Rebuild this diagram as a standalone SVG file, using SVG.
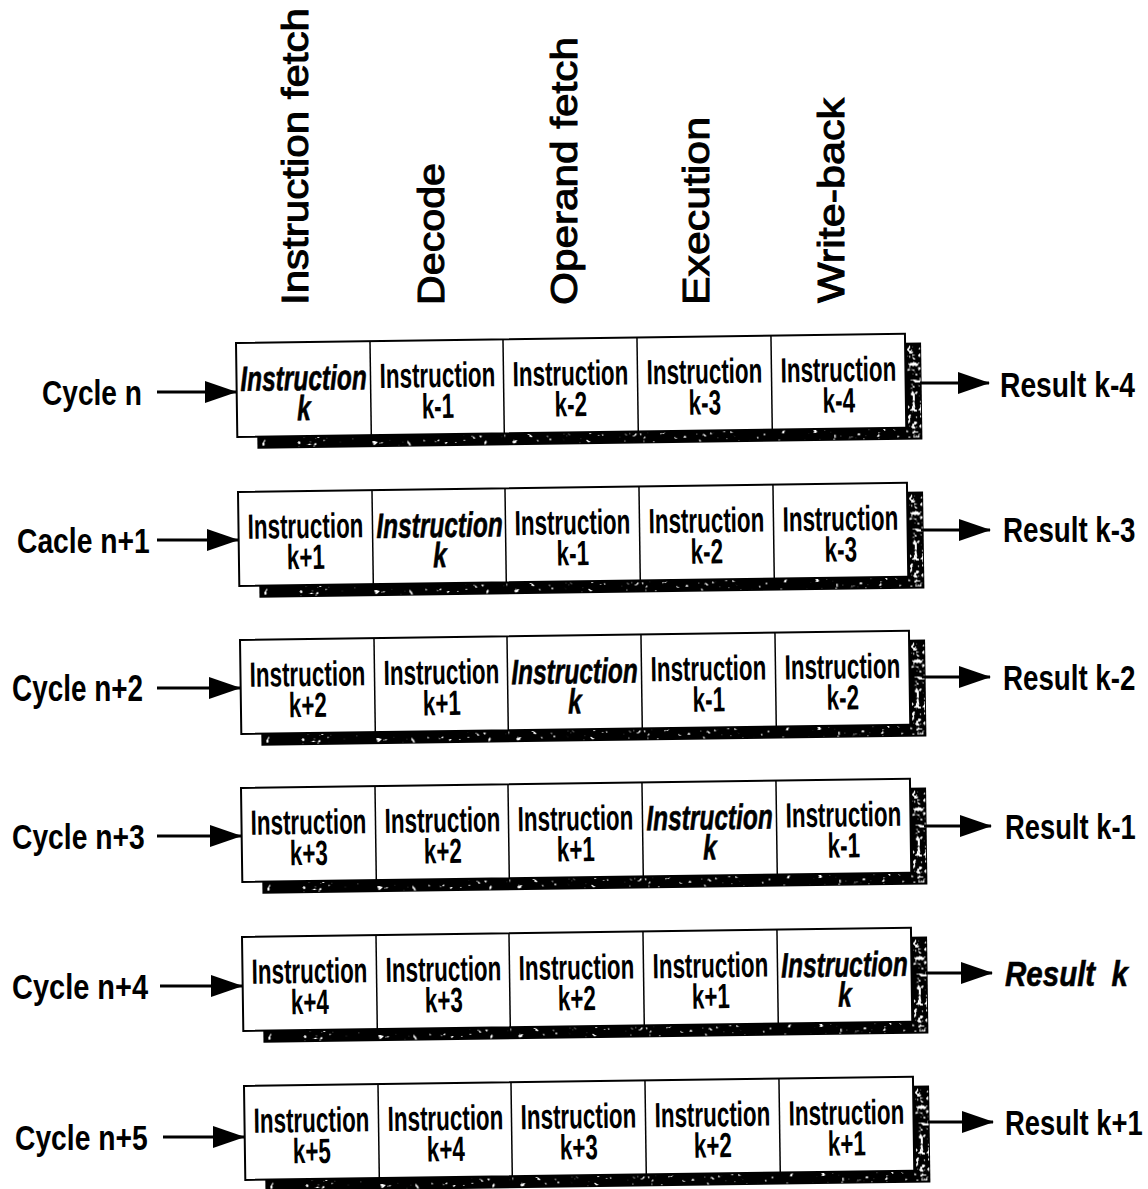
<svg xmlns="http://www.w3.org/2000/svg" width="1148" height="1189" viewBox="0 0 1148 1189">
<style>
  .hdr { font-family: "Liberation Sans", Arial, sans-serif; font-weight: normal; font-size: 36px; fill: #000; stroke: #000; stroke-width: 1px; }
  .lbl { font-family: "Liberation Sans", Arial, sans-serif; font-weight: bold; font-size: 36px; fill: #000; }
  .cell { font-family: "Liberation Sans", Arial, sans-serif; font-weight: bold; font-size: 35px; fill: #000; text-anchor: middle; }
  .cur { font-style: italic; font-weight: 900; stroke: #000; stroke-width: 0.6px; }
  .box { fill: #fff; stroke: #000; stroke-width: 2px; }
  .div { stroke: #000; stroke-width: 1.5px; }
  .shadow { fill: #000; }
  .conn { stroke: #000; stroke-width: 3px; fill: none; }
</style>
<defs>
  <marker id="ah" markerUnits="userSpaceOnUse" markerWidth="32" markerHeight="22" refX="31" refY="11" orient="auto">
    <path d="M0,0 L32,11 L0,22 Z" fill="#000"/>
  </marker>
  <filter id="speckB" filterUnits="userSpaceOnUse" x="0" y="0" width="1148" height="1189">
    <feTurbulence type="fractalNoise" baseFrequency="0.2" numOctaves="2" seed="7" result="n"/>
    <feColorMatrix in="n" type="matrix" values="0 0 0 0 1  0 0 0 0 1  0 0 0 0 1  18 0 0 0 -12.2" result="w"/>
    <feComposite in="w" in2="SourceGraphic" operator="in"/>
  </filter>
  <filter id="speckR" filterUnits="userSpaceOnUse" x="0" y="0" width="1148" height="1189">
    <feTurbulence type="fractalNoise" baseFrequency="0.24" numOctaves="2" seed="3" result="n"/>
    <feColorMatrix in="n" type="matrix" values="0 0 0 0 1  0 0 0 0 1  0 0 0 0 1  14 0 0 0 -7.8" result="w"/>
    <feComposite in="w" in2="SourceGraphic" operator="in"/>
  </filter>
  <g id="tray">
    <rect class="shadow" x="20" y="9" width="665" height="97"/>
    <rect x="22" y="95" width="660" height="10" fill="#fff" filter="url(#speckB)"/>
    <rect x="671" y="12" width="13" height="92" fill="#fff" filter="url(#speckR)"/>
    <rect class="box" x="0" y="0" width="669" height="94"/>
    <line class="div" x1="134" y1="0" x2="134" y2="94"/>
    <line class="div" x1="267" y1="0" x2="267" y2="94"/>
    <line class="div" x1="401" y1="0" x2="401" y2="94"/>
    <line class="div" x1="535" y1="0" x2="535" y2="94"/>
  </g>
</defs>

<g id="stage-headers">
  <text class="hdr" transform="translate(308,305) rotate(-90)" textLength="297" lengthAdjust="spacingAndGlyphs">Instruction fetch</text>
  <text class="hdr" transform="translate(444,305) rotate(-90)" textLength="142" lengthAdjust="spacingAndGlyphs">Decode</text>
  <text class="hdr" transform="translate(577,305) rotate(-90)" textLength="268" lengthAdjust="spacingAndGlyphs">Operand fetch</text>
  <text class="hdr" transform="translate(709,305) rotate(-90)" textLength="188" lengthAdjust="spacingAndGlyphs">Execution</text>
  <text class="hdr" transform="translate(844,303) rotate(-90)" textLength="205" lengthAdjust="spacingAndGlyphs">Write-back</text>
</g>

<!-- Row 1 -->
<g id="label-cycle-n"><text class="lbl" transform="translate(42,405) scale(0.78,1)">Cycle n</text></g>
<g id="pipeline-cycle-n" transform="translate(236,343) rotate(-0.8)">
  <use href="#tray"/>
  <text class="cell cur" transform="translate(67,0) scale(0.7,1)"><tspan x="0" y="48">Instruction</tspan><tspan x="0" y="78">k</tspan></text>
  <text class="cell" transform="translate(201,0) scale(0.64,1)"><tspan x="0" y="47">Instruction</tspan><tspan x="0" y="78">k-1</tspan></text>
  <text class="cell" transform="translate(334,0) scale(0.64,1)"><tspan x="0" y="47">Instruction</tspan><tspan x="0" y="78">k-2</tspan></text>
  <text class="cell" transform="translate(468,0) scale(0.64,1)"><tspan x="0" y="47">Instruction</tspan><tspan x="0" y="78">k-3</tspan></text>
  <text class="cell" transform="translate(602,0) scale(0.64,1)"><tspan x="0" y="47">Instruction</tspan><tspan x="0" y="78">k-4</tspan></text>
</g>
<g id="result-k-4"><text class="lbl" transform="translate(1000,397) scale(0.785,1)">Result k-4</text></g>

<!-- Row 2 -->
<g id="label-cacle-n1"><text class="lbl" transform="translate(17,553) scale(0.785,1)">Cacle n+1</text></g>
<g id="pipeline-cycle-n1" transform="translate(238,492) rotate(-0.8)">
  <use href="#tray"/>
  <text class="cell" transform="translate(67,0) scale(0.64,1)"><tspan x="0" y="47">Instruction</tspan><tspan x="0" y="78">k+1</tspan></text>
  <text class="cell cur" transform="translate(201,0) scale(0.7,1)"><tspan x="0" y="48">Instruction</tspan><tspan x="0" y="78">k</tspan></text>
  <text class="cell" transform="translate(334,0) scale(0.64,1)"><tspan x="0" y="47">Instruction</tspan><tspan x="0" y="78">k-1</tspan></text>
  <text class="cell" transform="translate(468,0) scale(0.64,1)"><tspan x="0" y="47">Instruction</tspan><tspan x="0" y="78">k-2</tspan></text>
  <text class="cell" transform="translate(602,0) scale(0.64,1)"><tspan x="0" y="47">Instruction</tspan><tspan x="0" y="78">k-3</tspan></text>
</g>
<g id="result-k-3"><text class="lbl" transform="translate(1003,542) scale(0.77,1)">Result k-3</text></g>

<!-- Row 3 -->
<g id="label-cycle-n2"><text class="lbl" transform="translate(12,701) scale(0.775,1)">Cycle n+2</text></g>
<g id="pipeline-cycle-n2" transform="translate(240,640) rotate(-0.8)">
  <use href="#tray"/>
  <text class="cell" transform="translate(67,0) scale(0.64,1)"><tspan x="0" y="47">Instruction</tspan><tspan x="0" y="78">k+2</tspan></text>
  <text class="cell" transform="translate(201,0) scale(0.64,1)"><tspan x="0" y="47">Instruction</tspan><tspan x="0" y="78">k+1</tspan></text>
  <text class="cell cur" transform="translate(334,0) scale(0.7,1)"><tspan x="0" y="48">Instruction</tspan><tspan x="0" y="78">k</tspan></text>
  <text class="cell" transform="translate(468,0) scale(0.64,1)"><tspan x="0" y="47">Instruction</tspan><tspan x="0" y="78">k-1</tspan></text>
  <text class="cell" transform="translate(602,0) scale(0.64,1)"><tspan x="0" y="47">Instruction</tspan><tspan x="0" y="78">k-2</tspan></text>
</g>
<g id="result-k-2"><text class="lbl" transform="translate(1003,690) scale(0.77,1)">Result k-2</text></g>

<!-- Row 4 -->
<g id="label-cycle-n3"><text class="lbl" transform="translate(12,849) scale(0.785,1)">Cycle n+3</text></g>
<g id="pipeline-cycle-n3" transform="translate(241,788) rotate(-0.8)">
  <use href="#tray"/>
  <text class="cell" transform="translate(67,0) scale(0.64,1)"><tspan x="0" y="47">Instruction</tspan><tspan x="0" y="78">k+3</tspan></text>
  <text class="cell" transform="translate(201,0) scale(0.64,1)"><tspan x="0" y="47">Instruction</tspan><tspan x="0" y="78">k+2</tspan></text>
  <text class="cell" transform="translate(334,0) scale(0.64,1)"><tspan x="0" y="47">Instruction</tspan><tspan x="0" y="78">k+1</tspan></text>
  <text class="cell cur" transform="translate(468,0) scale(0.7,1)"><tspan x="0" y="48">Instruction</tspan><tspan x="0" y="78">k</tspan></text>
  <text class="cell" transform="translate(602,0) scale(0.64,1)"><tspan x="0" y="47">Instruction</tspan><tspan x="0" y="78">k-1</tspan></text>
</g>
<g id="result-k-1"><text class="lbl" transform="translate(1005,839) scale(0.76,1)">Result k-1</text></g>

<!-- Row 5 -->
<g id="label-cycle-n4"><text class="lbl" transform="translate(12,999) scale(0.805,1)">Cycle n+4</text></g>
<g id="pipeline-cycle-n4" transform="translate(242,937) rotate(-0.8)">
  <use href="#tray"/>
  <text class="cell" transform="translate(67,0) scale(0.64,1)"><tspan x="0" y="47">Instruction</tspan><tspan x="0" y="78">k+4</tspan></text>
  <text class="cell" transform="translate(201,0) scale(0.64,1)"><tspan x="0" y="47">Instruction</tspan><tspan x="0" y="78">k+3</tspan></text>
  <text class="cell" transform="translate(334,0) scale(0.64,1)"><tspan x="0" y="47">Instruction</tspan><tspan x="0" y="78">k+2</tspan></text>
  <text class="cell" transform="translate(468,0) scale(0.64,1)"><tspan x="0" y="47">Instruction</tspan><tspan x="0" y="78">k+1</tspan></text>
  <text class="cell cur" transform="translate(602,0) scale(0.7,1)"><tspan x="0" y="48">Instruction</tspan><tspan x="0" y="78">k</tspan></text>
</g>
<g id="result-k"><text class="lbl cur" transform="translate(1005,986) scale(0.82,1)" xml:space="preserve">Result  k</text></g>

<!-- Row 6 -->
<g id="label-cycle-n5"><text class="lbl" transform="translate(15,1150) scale(0.785,1)">Cycle n+5</text></g>
<g id="pipeline-cycle-n5" transform="translate(244,1086) rotate(-0.8)">
  <use href="#tray"/>
  <text class="cell" transform="translate(67,0) scale(0.64,1)"><tspan x="0" y="47">Instruction</tspan><tspan x="0" y="78">k+5</tspan></text>
  <text class="cell" transform="translate(201,0) scale(0.64,1)"><tspan x="0" y="47">Instruction</tspan><tspan x="0" y="78">k+4</tspan></text>
  <text class="cell" transform="translate(334,0) scale(0.64,1)"><tspan x="0" y="47">Instruction</tspan><tspan x="0" y="78">k+3</tspan></text>
  <text class="cell" transform="translate(468,0) scale(0.64,1)"><tspan x="0" y="47">Instruction</tspan><tspan x="0" y="78">k+2</tspan></text>
  <text class="cell" transform="translate(602,0) scale(0.64,1)"><tspan x="0" y="47">Instruction</tspan><tspan x="0" y="78">k+1</tspan></text>
</g>
<g id="result-k1"><text class="lbl" transform="translate(1005,1135) scale(0.76,1)">Result k+1</text></g>

<g id="connectors">
  <line class="conn" x1="157" y1="392" x2="236" y2="392" marker-end="url(#ah)"/>
  <line class="conn" x1="920" y1="383" x2="989" y2="383" marker-end="url(#ah)"/>
  <line class="conn" x1="157" y1="540" x2="238" y2="540" marker-end="url(#ah)"/>
  <line class="conn" x1="921" y1="530" x2="990" y2="530" marker-end="url(#ah)"/>
  <line class="conn" x1="157" y1="688" x2="240" y2="688" marker-end="url(#ah)"/>
  <line class="conn" x1="922" y1="677" x2="990" y2="677" marker-end="url(#ah)"/>
  <line class="conn" x1="157" y1="836" x2="241" y2="836" marker-end="url(#ah)"/>
  <line class="conn" x1="924" y1="826" x2="991" y2="826" marker-end="url(#ah)"/>
  <line class="conn" x1="160" y1="986" x2="242" y2="986" marker-end="url(#ah)"/>
  <line class="conn" x1="926" y1="973" x2="992" y2="973" marker-end="url(#ah)"/>
  <line class="conn" x1="163" y1="1137" x2="244" y2="1137" marker-end="url(#ah)"/>
  <line class="conn" x1="928" y1="1122" x2="993" y2="1122" marker-end="url(#ah)"/>
</g>
</svg>
